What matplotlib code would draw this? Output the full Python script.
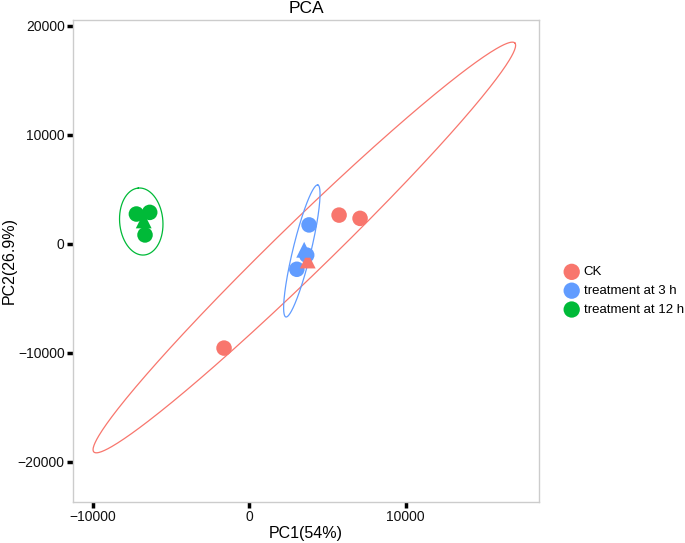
import numpy as np
import matplotlib
matplotlib.use("Agg")
import matplotlib.pyplot as plt

plt.rcParams["font.family"] = ["Liberation Sans", "DejaVu Sans"]

groups = ["CK", "treatment at 3 h", "treatment at 12 h"]
colors = ["#F8766D", "#619CFF", "#00BA38"]

# sample scores (PC1, PC2)
pc1 = {
    "CK": [-1600, 5750, 7090],
    "treatment at 3 h": [3830, 3680, 3050],
    "treatment at 12 h": [-7200, -6350, -6650],
}
pc2 = {
    "CK": [-9550, 2650, 2350],
    "treatment at 3 h": [1750, -1020, -2320],
    "treatment at 12 h": [2750, 2900, 830],
}

# confidence ellipses: centre, major half-axis vector, minor half-axis vector
ell_center = {
    "CK": (3530, -320),
    "treatment at 3 h": (3370, -640),
    "treatment at 12 h": (-6890, 2060),
}
ell_major = {
    "CK": (13450, 18760),
    "treatment at 3 h": (1020, 6055),
    "treatment at 12 h": (-190, 3070),
}
ell_minor = {
    "CK": (-1157, 1710),
    "treatment at 3 h": (-560, 195),
    "treatment at 12 h": (1375, 180),
}

fig = plt.figure(figsize=(6.85, 5.43), dpi=100)
ax = fig.add_axes([0.1066, 0.0755, 0.6804, 0.8877])

t = np.linspace(0, 2 * np.pi, 400)
for g, c in zip(groups, colors):
    cx, cy = ell_center[g]
    mx, my = ell_major[g]
    nx, ny = ell_minor[g]
    ax.plot(cx + mx * np.cos(t) + nx * np.sin(t),
            cy + my * np.cos(t) + ny * np.sin(t),
            color=c, lw=0.9, zorder=1)

for g, c in zip(groups, colors):
    ax.scatter(pc1[g], pc2[g], s=125, color=c, edgecolors="none",
               label=g, zorder=2)

for g, c in zip(groups, colors):
    ax.scatter(np.mean(pc1[g]), np.mean(pc2[g]), s=130, marker="^",
               color=c, edgecolors="none", zorder=3)

ax.set_xlim(-11250, 18530)
ax.set_ylim(-23670, 20550)
ax.set_xticks([-10000, 0, 10000])
ax.set_yticks([-20000, -10000, 0, 10000, 20000])

for s in ax.spines.values():
    s.set_color("#CCCCCC")
    s.set_linewidth(1.0)
ax.tick_params(axis="both", length=4, width=2.5, color="black",
               labelsize=10, labelcolor="#111111", pad=2)

ax.set_title("PCA", fontsize=12.5, pad=5)
ax.set_xlabel("PC1(54%)", fontsize=11.5, labelpad=1)
ax.set_ylabel("PC2(26.9%)", fontsize=11.5, labelpad=1)

ax.legend(loc="center left", bbox_to_anchor=(1.0558, 0.4377), frameon=False,
          fontsize=9.5, handlelength=1.0, handletextpad=0.4, labelspacing=0.5,
          borderaxespad=0, borderpad=0, markerscale=1.05)

fig.savefig("out.png", dpi=100, facecolor="white")
